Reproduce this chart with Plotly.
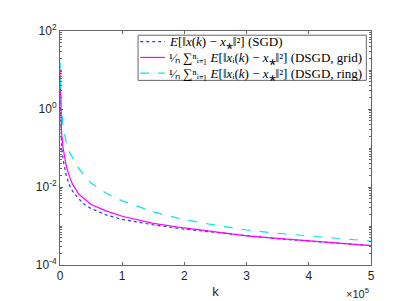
import plotly.graph_objects as go

k = [0, 1000, 2500, 5000, 7500, 10000, 15000, 20000, 30000, 40000, 50000, 75000,
     100000, 150000, 200000, 250000, 300000, 350000, 400000, 450000, 500000]

sgd = [3.2e0, 4.0e-1, 1.26e-1, 5.0e-2, 2.8e-2, 2.0e-2, 1.12e-2, 7.9e-3, 5.0e-3, 3.5e-3,
       2.8e-3, 1.9e-3, 1.48e-3, 1.07e-3, 8.3e-4, 6.8e-4, 5.5e-4, 4.7e-4, 4.1e-4, 3.55e-4, 3.15e-4]
grid = [1.0e1, 1.0e0, 2.5e-1, 1.0e-1, 5.6e-2, 3.5e-2, 1.9e-2, 1.2e-2, 6.6e-3, 4.7e-3,
        3.55e-3, 2.4e-3, 1.78e-3, 1.17e-3, 8.9e-4, 7.1e-4, 5.6e-4, 4.8e-4, 4.2e-4, 3.65e-4, 3.15e-4]
ring = [1.6e1, 3.2e0, 1.0e0, 3.5e-1, 2.0e-1, 1.4e-1, 7.9e-2, 5.6e-2, 3.0e-2, 1.9e-2,
        1.26e-2, 6.8e-3, 4.4e-3, 2.3e-3, 1.45e-3, 1.05e-3, 7.9e-4, 6.5e-4, 5.5e-4, 4.7e-4, 4.1e-4]

names = [
    "<i>E</i>[‖<i>x</i>(<i>k</i>) − <i>x</i>⁎‖²] (SGD)",
    "¹⁄ₙ ∑ⁿᵢ₌₁ <i>E</i>[‖<i>x</i>ᵢ(<i>k</i>) − <i>x</i>⁎‖²] (DSGD, grid)",
    "¹⁄ₙ ∑ⁿᵢ₌₁ <i>E</i>[‖<i>x</i>ᵢ(<i>k</i>) − <i>x</i>⁎‖²] (DSGD, ring)",
]
colors = ["#3333ff", "#ff00ff", "#00e5ee"]
dashes = ["dot", "solid", "dash"]

xtickvals = [0, 100000, 200000, 300000, 400000, 500000]
xticktext = ["0", "1", "2", "3", "4", "5"]
ytickvals = [1e-4, 1e-2, 1e0, 1e2]
yticktext = ["10<sup>-4</sup>", "10<sup>-2</sup>", "10<sup>0</sup>", "10<sup>2</sup>"]
yminor = [m * 10.0 ** e for e in range(-4, 2) for m in range(1, 10)]

fig = go.Figure()
for y, nm, c, d in zip([sgd, grid, ring], names, colors, dashes):
    fig.add_trace(go.Scatter(x=k, y=y, mode="lines", name=nm, showlegend=False,
                             line=dict(color=c, width=1.2, dash=d)))

axcol = "#666666"
fig.update_layout(
    width=402, height=301,
    margin=dict(l=52, r=39, t=23, b=40),
    paper_bgcolor="white", plot_bgcolor="white",
    font=dict(family="Liberation Sans, Arial, sans-serif", size=12, color="#262626"),
    showlegend=False,
    xaxis=dict(range=[0, 500000], tickvals=xtickvals, ticktext=xticktext,
               showgrid=False, zeroline=False, showline=True, linecolor=axcol,
               mirror="ticks", ticks="inside", ticklen=3, tickcolor=axcol,
               title=dict(text="k", font=dict(size=13), standoff=4)),
    yaxis=dict(type="log", range=[-4, 2], tickvals=ytickvals, ticktext=yticktext,
               showgrid=False, zeroline=False, showline=True, linecolor=axcol,
               mirror="ticks", ticks="inside", ticklen=3, tickcolor=axcol,
               minor=dict(ticks="inside", ticklen=2, tickcolor=axcol,
                          tickmode="array", tickvals=yminor)),
)

# custom legend (paper coordinates)
fig.add_shape(type="rect", xref="paper", yref="paper", x0=0.251, x1=0.985, y0=0.789, y1=0.982,
              line=dict(color=axcol, width=1), fillcolor="white", layer="above")
rows = [0.955, 0.887, 0.820]
for ry, nm, c, d in zip(rows, names, colors, dashes):
    fig.add_shape(type="line", xref="paper", yref="paper", x0=0.258, x1=0.337, y0=ry, y1=ry,
                  line=dict(color=c, width=1.2, dash=d), layer="above")
    fig.add_annotation(text=nm, xref="paper", yref="paper", x=0.343, y=ry,
                       xanchor="left", yanchor="middle", showarrow=False,
                       font=dict(family="Liberation Serif, Times New Roman, serif", size=13, color="#000"))

fig.add_annotation(text="×10<sup>5</sup>", xref="paper", yref="paper",
                   x=1.0, y=-0.16, xanchor="right", yanchor="bottom",
                   showarrow=False, font=dict(size=11, color="#262626"))

fig.write_html("out.html")
